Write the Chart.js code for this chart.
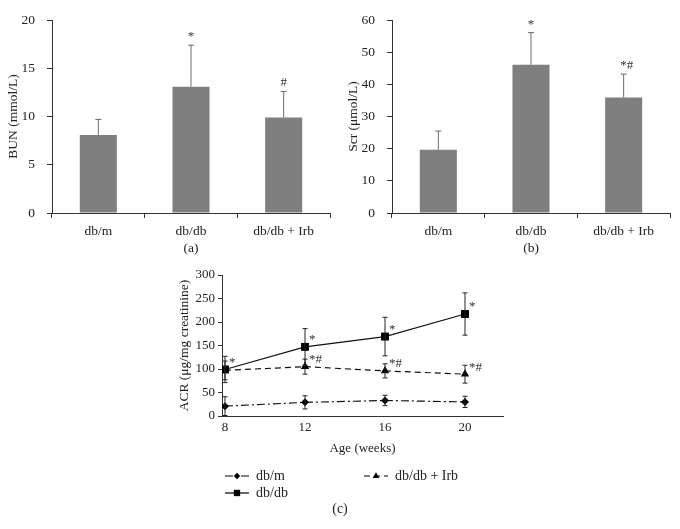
<!DOCTYPE html>
<html>
<head>
<meta charset="utf-8">
<script src="https://cdn.jsdelivr.net/npm/chart.js@4.4.1/dist/chart.umd.min.js"></script>
<style>
    html, body { margin: 0; padding: 0; background: #fff; }
    #wrap { position: relative; width: 680px; height: 529px; overflow: hidden; }
    canvas { position: absolute; }
</style>
</head>
<body>
<div id="wrap">
    <canvas id="bunChart" width="340" height="260" style="left:0;top:0"></canvas>
    <canvas id="scrChart" width="340" height="260" style="left:340px;top:0"></canvas>
    <canvas id="acrChart" width="360" height="267" style="left:170px;top:262px"></canvas>
</div>
<script>
// groups for panels (a) and (b)
const groups = ['db/m', 'db/db', 'db/db + Irb'];

// (a) BUN, mmol/L
const bunMean = [8.1, 13.1, 9.9];
const bunSD = [1.6, 4.3, 2.7];
const bunMarks = ['', '*', '#'];
const bunTicks = [0, 5, 10, 15, 20];

// (b) Scr, umol/L
const scrMean = [19.7, 46.1, 35.9];
const scrSD = [5.8, 10.0, 7.3];
const scrMarks = ['', '*', '*#'];
const scrTicks = [0, 10, 20, 30, 40, 50, 60];

// (c) ACR over age
const weeks = [8, 12, 16, 20];
const acrTicks = [0, 50, 100, 150, 200, 250, 300];
const dbmAcr = [21, 29, 33, 30];
const dbmSD = [20, 14, 11, 12];
const dbdbAcr = [99, 147, 169, 217];
const dbdbSD = [28, 39, 41, 45];
const dbdbMarks = ['*', '*', '*', '*'];
const irbAcr = [97, 105, 96, 89];
const irbSD = [20, 16, 15, 19];
const irbMarks = ['', '*#', '*#', '*#'];

const SERIF = '"Liberation Serif", "DejaVu Serif", serif';
const AXIS = '#333';

Chart.defaults.font.family = SERIF;
Chart.defaults.color = '#222';
Chart.defaults.animation = false;

// error bars (up only for bars, both ways for lines) and the * / # marks
const errorBarPlugin = {
    id: 'errorBars',
    afterDatasetsDraw(chart) {
        const ctx = chart.ctx;
        const yScale = chart.scales.y;
        chart.data.datasets.forEach((ds, di) => {
            const meta = chart.getDatasetMeta(di);
            meta.data.forEach((el, i) => {
                const v = ds.means[i];
                const sd = ds.sd[i];
                const x = el.x;
                const yTop = yScale.getPixelForValue(v + sd);
                const yMid = yScale.getPixelForValue(v);
                const yBot = yScale.getPixelForValue(Math.max(0, v - sd));
                ctx.save();
                ctx.strokeStyle = ds.errColor;
                ctx.lineWidth = 1;
                ctx.beginPath();
                if (chart.config.type === 'bar') {
                    ctx.moveTo(x, yMid);
                    ctx.lineTo(x, yTop);
                    ctx.moveTo(x - 3, yTop);
                    ctx.lineTo(x + 3, yTop);
                } else {
                    ctx.moveTo(x, yBot);
                    ctx.lineTo(x, yTop);
                    ctx.moveTo(x - 2.5, yTop);
                    ctx.lineTo(x + 2.5, yTop);
                    ctx.moveTo(x - 2.5, yBot);
                    ctx.lineTo(x + 2.5, yBot);
                }
                ctx.stroke();

                const mark = ds.marks ? ds.marks[i] : '';
                if (mark) {
                    ctx.fillStyle = '#333';
                    ctx.font = '13px ' + SERIF;
                    if (chart.config.type === 'bar') {
                        ctx.textAlign = 'center';
                        ctx.textBaseline = 'bottom';
                        ctx.fillText(mark, x + (mark.length > 1 ? 3 : 0), yTop - 2);
                    } else {
                        ctx.textAlign = 'left';
                        ctx.textBaseline = 'middle';
                        ctx.fillText(mark, x + 4, el.y - 7);
                    }
                }
                ctx.restore();
            });
        });
    }
};

function drawMarker(ctx, style, x, y, r) {
    ctx.beginPath();
    if (style === 'rect') {
        const s = r * Math.SQRT1_2;
        ctx.rect(x - s, y - s, 2 * s, 2 * s);
    } else if (style === 'triangle') {
        ctx.moveTo(x, y - r);
        ctx.lineTo(x + r * 0.866, y + r * 0.5);
        ctx.lineTo(x - r * 0.866, y + r * 0.5);
        ctx.closePath();
    } else {
        ctx.moveTo(x - r, y);
        ctx.lineTo(x, y - r);
        ctx.lineTo(x + r, y);
        ctx.lineTo(x, y + r);
        ctx.closePath();
    }
    ctx.fill();
}

// two column legend under panel (c) plus the "(c)" caption
const acrLegendPlugin = {
    id: 'acrLegend',
    afterDraw(chart) {
        const ctx = chart.ctx;
        const area = chart.chartArea;
        const slots = [
            { di: 0, x: area.left + 3, y: area.bottom + 60 },
            { di: 1, x: area.left + 3, y: area.bottom + 77 },
            { di: 2, x: area.left + 142, y: area.bottom + 60 }
        ];
        ctx.save();
        slots.forEach(s => {
            const ds = chart.data.datasets[s.di];
            ctx.strokeStyle = '#000';
            ctx.lineWidth = 1.2;
            ctx.setLineDash(ds.borderDash || []);
            ctx.beginPath();
            ctx.moveTo(s.x, s.y);
            ctx.lineTo(s.x + 24, s.y);
            ctx.stroke();
            ctx.setLineDash([]);
            ctx.fillStyle = '#000';
            drawMarker(ctx, ds.pointStyle, s.x + 12, s.y, ds.pointRadius * 0.8);
            ctx.fillStyle = '#222';
            ctx.font = '14px ' + SERIF;
            ctx.textAlign = 'left';
            ctx.textBaseline = 'middle';
            ctx.fillText(ds.label, s.x + 31, s.y);
        });
        ctx.font = '14px ' + SERIF;
        ctx.textAlign = 'center';
        ctx.fillText('(c)', area.left + 118, area.bottom + 93);
        ctx.restore();
    }
};

function barPanel(canvasId, means, sd, marks, ticks, yTitle, caption) {
    const ctx = document.getElementById(canvasId).getContext('2d');
    return new Chart(ctx, {
        type: 'bar',
        data: {
            labels: groups,
            datasets: [{
                data: means,
                means: means,
                sd: sd,
                marks: marks,
                errColor: '#6a6a6a',
                backgroundColor: '#7f7f7f',
                borderWidth: 0,
                barPercentage: 0.4,
                categoryPercentage: 1
            }]
        },
        options: {
            responsive: false,
            layout: { padding: { top: 13, right: 10, left: 0, bottom: 0 } },
            plugins: { legend: { display: false }, tooltip: { enabled: false } },
            scales: {
                x: {
                    offset: true,
                    grid: { offset: true, drawOnChartArea: false, tickLength: 5, tickColor: AXIS },
                    border: { color: AXIS },
                    ticks: { padding: 5, color: '#222', font: { size: 13.5 } },
                    title: { display: true, text: caption, color: '#222', font: { size: 13.5 }, padding: { top: 0, bottom: 3 } },
                    afterFit: s => { s.height = 47; }
                },
                y: {
                    min: ticks[0],
                    max: ticks[ticks.length - 1],
                    afterBuildTicks: s => { s.ticks = ticks.map(v => ({ value: v })); },
                    grid: { drawOnChartArea: false, tickLength: 5, tickColor: AXIS },
                    border: { color: AXIS },
                    ticks: { padding: 12, color: '#222', font: { size: 13.5 } },
                    title: { display: true, text: yTitle, color: '#222', font: { size: 13.5 }, padding: { top: 5, bottom: 0 } },
                    afterFit: s => { s.width = 52; }
                }
            }
        },
        plugins: [errorBarPlugin]
    });
}

function lineSet(label, values, sd, marks, style, radius, dash) {
    return {
        label: label,
        data: weeks.map((w, i) => ({ x: w, y: values[i] })),
        means: values,
        sd: sd,
        marks: marks,
        errColor: '#222',
        borderColor: '#111',
        borderWidth: 1.2,
        borderDash: dash,
        pointStyle: style,
        pointRadius: radius,
        pointBackgroundColor: '#000',
        pointBorderColor: '#000',
        pointBorderWidth: 0,
        fill: false,
        tension: 0
    };
}

document.addEventListener('DOMContentLoaded', () => {
    barPanel('bunChart', bunMean, bunSD, bunMarks, bunTicks, 'BUN (mmol/L)', '(a)');
    barPanel('scrChart', scrMean, scrSD, scrMarks, scrTicks, 'Scr (μmol/L)', '(b)');

    new Chart(document.getElementById('acrChart').getContext('2d'), {
        type: 'line',
        data: {
            datasets: [
                lineSet('db/m', dbmAcr, dbmSD, null, 'rectRot', 4, [8, 3, 2, 3]),
                lineSet('db/db', dbdbAcr, dbdbSD, dbdbMarks, 'rect', 5.6, []),
                lineSet('db/db + Irb', irbAcr, irbSD, irbMarks, 'triangle', 4.8, [6, 4])
            ]
        },
        options: {
            responsive: false,
            layout: { padding: { top: 13, right: 27, left: 0, bottom: 73 } },
            plugins: { legend: { display: false }, tooltip: { enabled: false } },
            scales: {
                x: {
                    type: 'linear',
                    min: 7.85,
                    max: 21.9,
                    afterBuildTicks: s => { s.ticks = weeks.map(v => ({ value: v })); },
                    grid: { drawOnChartArea: false, drawTicks: false },
                    border: { color: AXIS },
                    ticks: { padding: 4, color: '#222', font: { size: 13 } },
                    title: { display: true, text: 'Age (weeks)', color: '#222', font: { size: 13 }, padding: { top: 0, bottom: 0 } },
                    afterFit: s => { s.height = 40; }
                },
                y: {
                    min: acrTicks[0],
                    max: acrTicks[acrTicks.length - 1],
                    afterBuildTicks: s => { s.ticks = acrTicks.map(v => ({ value: v })); },
                    grid: { drawOnChartArea: false, tickLength: 4, tickColor: AXIS },
                    border: { color: AXIS },
                    ticks: { padding: 3, color: '#222', font: { size: 13 } },
                    title: { display: true, text: 'ACR (μg/mg creatinine)', color: '#222', font: { size: 13.5 }, padding: { top: 6, bottom: 0 } },
                    afterFit: s => { s.width = 52; }
                }
            }
        },
        plugins: [errorBarPlugin, acrLegendPlugin]
    });
});
</script>
</body>
</html>
